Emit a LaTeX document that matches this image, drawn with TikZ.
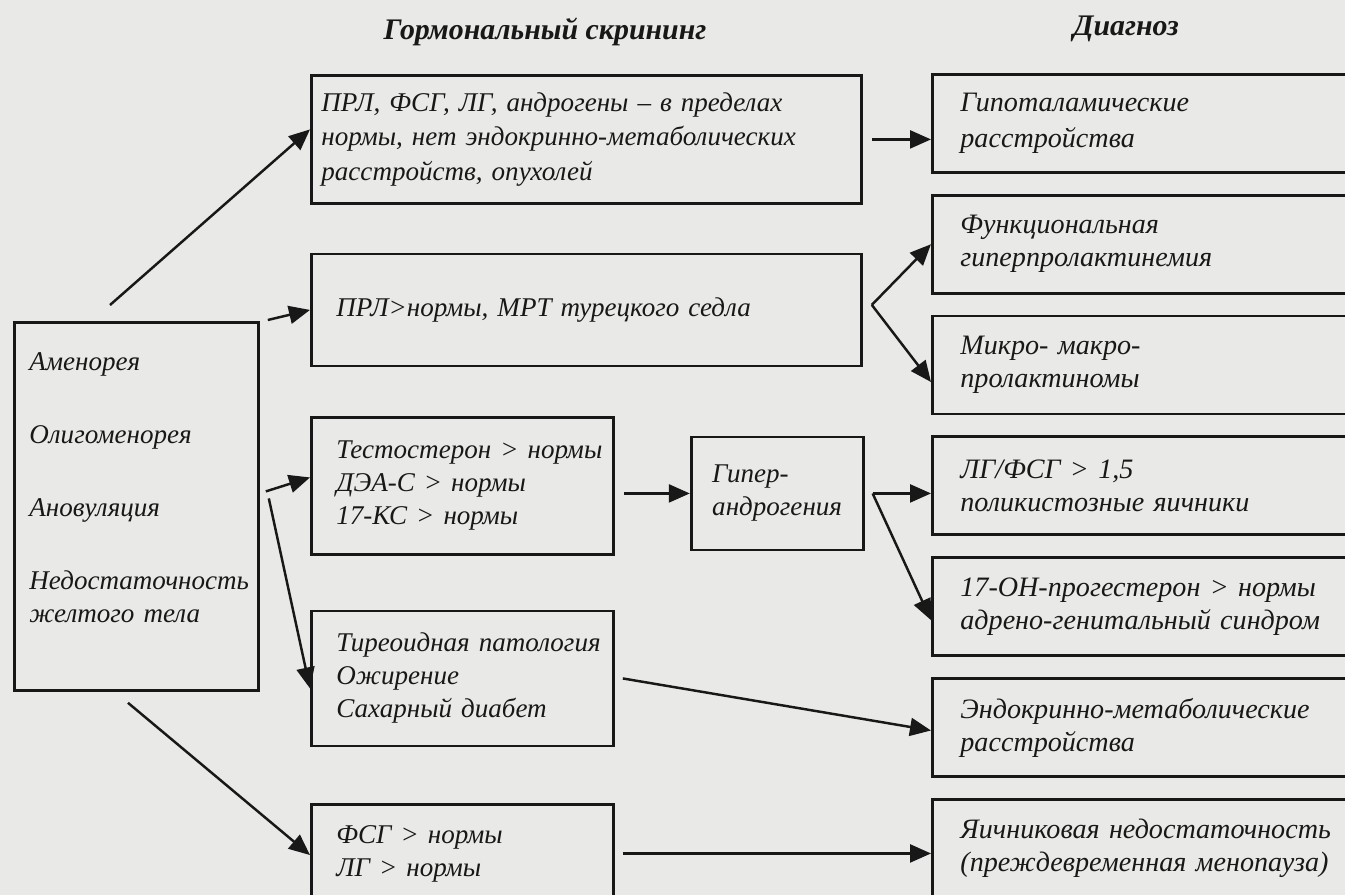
\documentclass[tikz,border=0pt]{standalone}
\usepackage{fontspec}
\setmainfont{Liberation Serif}
\usetikzlibrary{positioning, arrows.meta}
\definecolor{paper}{RGB}{233,233,231}
\definecolor{ink}{RGB}{24,24,24}

\begin{document}
\begin{tikzpicture}[
    	box/.style={rectangle, draw=ink, line width=1.6pt, align=left, text=ink, font=\itshape\fontsize{15.4}{18.8}\selectfont},
    	wide/.style={box, inner xsep=0.2cm, text width=10.6cm},
    	mid/.style={box, inner xsep=0.5cm, text width=5.04cm},
    	diag/.style={box, inner xsep=0.56cm, text width=8.08cm, minimum height=1.96cm, font=\itshape\fontsize{16}{18.8}\selectfont},
    	head/.style={text=ink, font=\bfseries\itshape\fontsize{17}{20}\selectfont},
    	arr/.style={draw=ink, line width=1.4pt, -{Triangle[length=0.42cm, width=0.36cm]}},
    ]
    \clip (0,0) rectangle (26.9,-17.9);
    \fill[paper] (0,0) rectangle (26.9,-17.9);
    % Headings
    \node[head] (screen_title) at (10.9,-0.64) {Гормональный скрининг};
    \node[head] (diag_title) at (22.52,-0.58) {Диагноз};
    % Symptoms
    \node[box, anchor=north west, inner xsep=0.3cm, text width=4.28cm, minimum height=7.36cm] (symptoms) at (0.26,-6.42)
        {Аменорея\\[0.8cm]Олигоменорея\\[0.8cm]Ановуляция\\[0.8cm]Недостаточность\\желтого тела\\[0.08cm]\mbox{}};
    % Hormonal screening
    \node[wide, anchor=north west, minimum height=2.56cm] (prl_fsh) at (6.2,-1.48)
        {ПРЛ, ФСГ, ЛГ, андрогены -- в пределах\\[1pt]нормы, нет эндокринно-метаболических\\[1pt]расстройств, опухолей};
    \node[wide, below=0.954cm of prl_fsh, inner xsep=0.5cm, text width=10cm, minimum height=2.24cm] (prl_mri)
        {ПРЛ>нормы, МРТ турецкого седла};
    \node[mid, below right=0.974cm and 0cm of prl_mri.south west, minimum height=2.74cm] (andro)
        {Тестостерон~>~нормы\\ДЭА-С~>~нормы\\17-КС~>~нормы};
    \node[mid, below=1.074cm of andro, minimum height=2.7cm] (thyro)
        {Тиреоидная~патология\\Ожирение\\Сахарный~диабет};
    \node[mid, below=1.114cm of thyro, minimum height=1.96cm] (fsh_lh)
        {ФСГ~>~нормы\\ЛГ~>~нормы};
    \node[box, right=1.5cm of andro, yshift=-0.15cm, inner xsep=0.42cm, text width=2.6cm, minimum height=2.26cm] (hyper)
        {Гипер-\\андрогения};
    % Diagnoses
    \node[diag, anchor=north west] (hypoth) at (18.62,-1.46) {Гипоталамические\\[2pt]расстройства};
    \node[diag, below=0.4cm of hypoth] (func_hprl) {Функциональная\\гиперпролактинемия};
    \node[diag, below=0.4cm of func_hprl] (micro) {Микро- макро-\\пролактиномы};
    \node[diag, below=0.4cm of micro] (pco) {ЛГ/ФСГ~>~1,5\\поликистозные яичники};
    \node[diag, below=0.4cm of pco] (ags) {17-ОН-прогестерон~>~нормы\\адрено-генитальный синдром};
    \node[diag, below=0.4cm of ags] (endo) {Эндокринно-метаболические\\расстройства};
    \node[diag, below=0.4cm of endo] (ovar) {Яичниковая недостаточность\\(преждевременная менопауза)};

    % Edges symptoms
    \draw[arr] ([xshift=1.94cm, yshift=0.32cm]symptoms.north west) -- ([yshift=0.2cm]prl_fsh.west);
    \draw[arr] ([xshift=0.16cm, yshift=0.02cm]symptoms.north east) -- (prl_mri.west);
    \draw[arr] ([xshift=0.12cm, yshift=0.3cm]symptoms.east) -- ([yshift=0.17cm]andro.west);
    \draw[arr] ([xshift=0.18cm, yshift=0.16cm]symptoms.east) -- ([yshift=-0.2cm]thyro.west);
    \draw[arr] ([xshift=2.3cm, yshift=-0.22cm]symptoms.south west) -- ([yshift=-1.04cm]fsh_lh.north west);
    % Edges screening
    \draw[arr] ([xshift=0.18cm]prl_fsh.east) -- (prl_fsh.east -| hypoth.west);
    \draw[arr] ([xshift=0.18cm, yshift=0.1cm]prl_mri.east) -- (func_hprl.west);
    \draw[arr] ([xshift=0.18cm, yshift=0.1cm]prl_mri.east) -- ([yshift=-0.34cm]micro.west);
    \draw[arr] ([xshift=0.18cm, yshift=-0.15cm]andro.east) -- (hyper.west);
    \draw[arr] ([xshift=0.16cm]thyro.east) -- ([yshift=-0.06cm]endo.west);
    \draw[arr] ([xshift=0.16cm]fsh_lh.east) -- (fsh_lh.east -| ovar.west);
    % Edges hyperandrogenism
    \draw[arr] ([xshift=0.16cm]hyper.east) -- (hyper.east -| pco.west);
    \draw[arr] ([xshift=0.16cm]hyper.east) -- ([yshift=-0.27cm]ags.west);
\end{tikzpicture}
\end{document}
